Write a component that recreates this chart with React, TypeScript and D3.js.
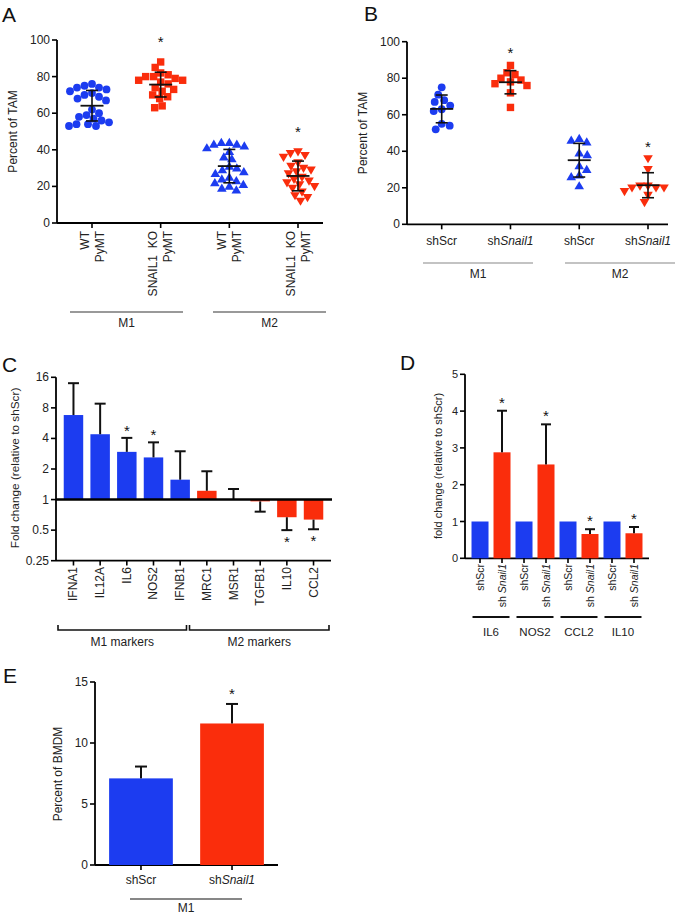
import React from "react";
import * as d3 from "d3";

const BLUE = "#1c3cf0";
const RED = "#fa2d0c";
const FONT = "'Liberation Sans', Arial, Helvetica, sans-serif";

// ---------- Panel A data ----------
const aLabels = [["WT", "PyMT"], ["SNAIL1  KO", "PyMT"], ["WT", "PyMT"], ["SNAIL1  KO", "PyMT"]];
const aGroups = ["M1", "M2"];
const aWtM1 = [76, 75, 74, 74, 73, 72, 71, 70, 69, 68, 67, 62, 60, 59, 58, 57, 56, 55, 54, 54, 53, 53];
const aKoM1 = [88, 85, 82, 81, 80, 80, 79, 78, 78, 77, 76, 74, 73, 72, 70, 69, 68, 64, 63];
const aWtM2 = [44, 44, 43, 43, 42, 41, 39, 36, 35, 31, 30, 29, 28, 27, 25, 24, 23, 22, 21, 20, 19, 18];
const aKoM2 = [39, 38, 37, 36, 33, 31, 30, 29, 28, 27, 25, 24, 23, 22, 21, 20, 19, 17, 15, 14, 12];
const aSig = [false, true, false, true];
const pctTicks = [0, 20, 40, 60, 80, 100];

// ---------- Panel B data ----------
const bLabels = ["shScr", "shSnail1", "shScr", "shSnail1"];
const bGroups = ["M1", "M2"];
const bScrM1 = [75, 71, 68, 67, 65, 63, 62, 55, 54, 52];
const bSnM1 = [87, 83, 82, 80, 79, 78, 77, 76, 72, 64];
const bScrM2 = [47, 46, 45, 39, 38, 32, 30, 27, 26, 21];
const bSnM2 = [36, 30, 20, 20, 21, 21, 20, 18, 16, 12];
const bSig = [false, true, false, true];

const markerShapes = ["circle", "square", "up", "down"];
const markerColors = [BLUE, RED, BLUE, RED];

// ---------- Panel C data ----------
const cGenes = ["IFNA1", "IL12A", "IL6", "NOS2", "IFNB1", "MRC1", "MSR1", "TGFB1", "IL10", "CCL2"];
const cValues = [6.8, 4.4, 2.95, 2.6, 1.57, 1.22, 1.01, 0.96, 0.67, 0.635];
const cErrEnds = [14, 8.8, 4.05, 3.66, 2.99, 1.9, 1.27, 0.76, 0.5, 0.51];
const cIsM1 = [true, true, true, true, true, false, false, false, false, false];
const cSig = [false, false, true, true, false, false, false, false, true, true];
const cTicks = [0.25, 0.5, 1, 2, 4, 8, 16];
const cGroups = ["M1 markers", "M2 markers"];

// ---------- Panel D data ----------
const dGenes = ["IL6", "NOS2", "CCL2", "IL10"];
const dScr = [1, 1, 1, 1];
const dSnail = [2.88, 2.55, 0.66, 0.68];
const dSnailErr = [1.13, 1.09, 0.13, 0.17];
const dSig = [true, true, true, true];
const dTicks = [0, 1, 2, 3, 4, 5];

// ---------- Panel E data ----------
const eLabels = ["shScr", "shSnail1"];
const eValues = [7.1, 11.6];
const eErr = [0.97, 1.6];
const eSig = [false, true];
const eTicks = [0, 5, 10, 15];

type Pt = { v: number; x: number; y: number };

function swarm(values: number[], y: (v: number) => number, minDist: number): Pt[] {
  const pts: Pt[] = values.map((v) => ({ v, x: 0, y: y(v) })).sort((a, b) => a.y - b.y);
  const placed: Pt[] = [];
  pts.forEach((p, i) => {
    let chosen = 0;
    for (let k = 0; k < 80; k += 0.5) {
      const cands = k === 0 ? [0] : i % 2 === 0 ? [k, -k] : [-k, k];
      const ok = cands.find((c) => placed.every((q) => Math.hypot(q.x - c, q.y - p.y) >= minDist));
      if (ok !== undefined) {
        chosen = ok;
        break;
      }
    }
    p.x = chosen;
    placed.push(p);
  });
  return placed;
}

function Marker({ shape, x, y, color }: { shape: string; x: number; y: number; color: string }) {
  if (shape === "circle") return <circle cx={x} cy={y} r={3.9} fill={color} />;
  if (shape === "square") return <rect x={x - 3.7} y={y - 3.7} width={7.4} height={7.4} fill={color} />;
  if (shape === "up")
    return <polygon points={`${x},${y - 4.8} ${x - 4.8},${y + 3.4} ${x + 4.8},${y + 3.4}`} fill={color} />;
  return <polygon points={`${x},${y + 4.8} ${x - 4.8},${y - 3.4} ${x + 4.8},${y - 3.4}`} fill={color} />;
}

function YAxis({ scale, ticks, x, fmt, fontSize = 12 }: any) {
  const [r0, r1] = scale.range();
  return (
    <g>
      <line x1={x} x2={x} y1={r0} y2={r1} stroke="#000" strokeWidth={1.8} />
      {ticks.map((t: number) => (
        <g key={t}>
          <line x1={x - 5} x2={x} y1={scale(t)} y2={scale(t)} stroke="#000" strokeWidth={1.6} />
          <text x={x - 7} y={scale(t)} textAnchor="end" dominantBaseline="central" fontSize={fontSize} fill="#222">
            {fmt ? fmt(t) : t}
          </text>
        </g>
      ))}
    </g>
  );
}

function Letter({ x, y, t }: { x: number; y: number; t: string }) {
  return (
    <text x={x} y={y} fontSize={21} fill="#111">
      {t}
    </text>
  );
}

function YTitle({ x, y, t, fontSize = 12 }: any) {
  return (
    <text transform={`translate(${x},${y}) rotate(-90)`} textAnchor="middle" dominantBaseline="central" fontSize={fontSize} fill="#222">
      {t}
    </text>
  );
}

function Star({ x, y }: { x: number; y: number }) {
  return (
    <text x={x} y={y + 7} textAnchor="middle" fontSize={15} fill="#111">
      *
    </text>
  );
}

function ShLabel({ name }: { name: string }) {
  if (name === "shSnail1")
    return (
      <>
        {"sh"}
        <tspan fontStyle="italic">Snail1</tspan>
      </>
    );
  return <>{name}</>;
}

function ScatterPanel({ cfg }: any) {
  const y = d3.scaleLinear().domain([0, 100]).range([cfg.yBottom, cfg.yTop]);
  const x = d3.scalePoint<number>().domain(cfg.series.map((_: any, i: number) => i)).range([cfg.first, cfg.last]);
  return (
    <g>
      <Letter x={cfg.letterX} y={cfg.letterY} t={cfg.letter} />
      <YTitle x={cfg.titleX} y={(cfg.yTop + cfg.yBottom) / 2} t="Percent of TAM" />
      <YAxis scale={y} ticks={pctTicks} x={cfg.axisX} />
      <line x1={cfg.axisX} x2={cfg.axisEnd} y1={cfg.yBottom} y2={cfg.yBottom} stroke="#000" strokeWidth={1.8} />
      {cfg.series.map((vals: number[], i: number) => {
        const cx = x(i)!;
        const pts = swarm(vals, y, cfg.minDist);
        const m = d3.mean(vals)!;
        const sd = d3.deviation(vals)!;
        const top = d3.max(vals)!;
        return (
          <g key={i}>
            <line x1={cx} x2={cx} y1={cfg.yBottom} y2={cfg.yBottom + 5} stroke="#000" strokeWidth={1.6} />
            {pts.map((p, j) => (
              <Marker key={j} shape={markerShapes[i]} x={cx + p.x} y={p.y} color={markerColors[i]} />
            ))}
            <line x1={cx} x2={cx} y1={y(m - sd)} y2={y(m + sd)} stroke="#111" strokeWidth={1.6} />
            <line x1={cx - 11.5} x2={cx + 11.5} y1={y(m)} y2={y(m)} stroke="#111" strokeWidth={1.8} />
            <line x1={cx - 6} x2={cx + 6} y1={y(m + sd)} y2={y(m + sd)} stroke="#111" strokeWidth={1.6} />
            <line x1={cx - 6} x2={cx + 6} y1={y(m - sd)} y2={y(m - sd)} stroke="#111" strokeWidth={1.6} />
            {cfg.sig[i] && <Star x={cx} y={y(top) - cfg.starGap} />}
            {cfg.renderLabel(i, cx)}
          </g>
        );
      })}
      {cfg.groups.map((g: string, gi: number) => {
        const [l, r] = cfg.groupLines[gi];
        return (
          <g key={g}>
            <line x1={l} x2={r} y1={cfg.groupY} y2={cfg.groupY} stroke={cfg.groupColor} strokeWidth={cfg.groupWidth} />
            <text x={(l + r) / 2} y={cfg.groupY + 15} textAnchor="middle" fontSize={12} fill="#222">
              {g}
            </text>
          </g>
        );
      })}
    </g>
  );
}

function PanelA() {
  const cfg = {
    letter: "A",
    letterX: 2,
    letterY: 22,
    titleX: 13,
    yTop: 40,
    yBottom: 223,
    axisX: 57,
    axisEnd: 323,
    first: 92,
    last: 298,
    minDist: 7.6,
    series: [aWtM1, aKoM1, aWtM2, aKoM2],
    sig: aSig,
    starGap: 22,
    groups: aGroups,
    groupLines: [[70, 183], [213, 326]],
    groupY: 312,
    groupColor: "#777",
    groupWidth: 1.5,
    renderLabel: (i: number, cx: number) => (
      <g>
        {aLabels[i].map((t, k) => (
          <text
            key={k}
            transform={`translate(${cx + (k - 0.5) * 15},231) rotate(-90)`}
            textAnchor="end"
            dominantBaseline="central"
            fontSize={12}
            fill="#222"
            style={{ whiteSpace: "pre" }}
          >
            {t}
          </text>
        ))}
      </g>
    ),
  };
  return <ScatterPanel cfg={cfg} />;
}

function PanelB() {
  const cfg = {
    letter: "B",
    letterX: 364,
    letterY: 21,
    titleX: 363,
    yTop: 41.7,
    yBottom: 224.3,
    axisX: 407,
    axisEnd: 668,
    first: 441.7,
    last: 648,
    minDist: 8,
    series: [bScrM1, bSnM1, bScrM2, bSnM2],
    sig: bSig,
    starGap: 14,
    groups: bGroups,
    groupLines: [[423, 533], [565, 675]],
    groupY: 263,
    groupColor: "#888",
    groupWidth: 1.1,
    renderLabel: (i: number, cx: number) => (
      <text x={cx} y={245} textAnchor="middle" fontSize={12} fill="#222">
        <ShLabel name={bLabels[i]} />
      </text>
    ),
  };
  return <ScatterPanel cfg={cfg} />;
}

function PanelC() {
  const y = d3.scaleLog().base(2).domain([0.25, 16]).range([560.7, 377.3]);
  const x = d3.scaleBand<string>().domain(cGenes).range([56, 331]).paddingInner(0.27).paddingOuter(0.29);
  const bw = x.bandwidth();
  const y1 = y(1);
  const brackets = [
    [58, 186.5],
    [189.5, 329],
  ];
  return (
    <g>
      <Letter x={2} y={372} t="C" />
      <YTitle x={15} y={468} t="Fold change (relative to shScr)" fontSize={11.8} />
      <YAxis scale={y} ticks={cTicks} x={56} />
      <line x1={56} x2={331} y1={560.7} y2={560.7} stroke="#000" strokeWidth={1.8} />
      {cGenes.map((g, i) => {
        const cx = x(g)! + bw / 2;
        const v = cValues[i];
        const e = cErrEnds[i];
        const up = v >= 1;
        return (
          <g key={g}>
            <rect
              x={x(g)!}
              width={bw}
              y={Math.min(y(v), y1)}
              height={Math.abs(y(v) - y1)}
              fill={cIsM1[i] ? BLUE : RED}
            />
            <line x1={cx} x2={cx} y1={y(v)} y2={y(e)} stroke="#111" strokeWidth={2} />
            <line x1={cx - 5.5} x2={cx + 5.5} y1={y(e)} y2={y(e)} stroke="#111" strokeWidth={2} />
            {cSig[i] && <Star x={cx} y={up ? y(e) - 9 : y(e) + 10} />}
            <line x1={cx} x2={cx} y1={560.7} y2={565.5} stroke="#000" strokeWidth={1.6} />
            <text transform={`translate(${cx},567) rotate(-90)`} textAnchor="end" dominantBaseline="central" fontSize={12} fill="#222">
              {g}
            </text>
          </g>
        );
      })}
      <line x1={56} x2={332} y1={y1} y2={y1} stroke="#000" strokeWidth={2.6} />
      {cGroups.map((g, gi) => {
        const [l, r] = brackets[gi];
        return (
          <g key={g}>
            <path d={`M${l},${625} V${630} H${r} V${625}`} fill="none" stroke="#111" strokeWidth={1.6} />
            <text x={(l + r) / 2} y={646} textAnchor="middle" fontSize={12} fill="#222">
              {g}
            </text>
          </g>
        );
      })}
    </g>
  );
}

function PanelD() {
  const y = d3.scaleLinear().domain([0, 5]).range([558.3, 374.3]);
  const keys = dGenes.flatMap((g) => [`${g}-scr`, `${g}-sn`]);
  const x = d3.scaleBand<string>().domain(keys).range([465, 649]).paddingInner(0.227).paddingOuter(0.296);
  const bw = x.bandwidth();
  return (
    <g>
      <Letter x={400} y={370} t="D" />
      <YTitle x={438} y={466} t="fold change (relative to shScr)" fontSize={11} />
      <YAxis scale={y} ticks={dTicks} x={465} fontSize={11} />
      <line x1={465} x2={649} y1={558.3} y2={558.3} stroke="#000" strokeWidth={1.8} />
      {dGenes.map((g, i) => {
        const xs = x(`${g}-scr`)!;
        const xn = x(`${g}-sn`)!;
        const cs = xs + bw / 2;
        const cn = xn + bw / 2;
        const v = dSnail[i];
        const top = v + dSnailErr[i];
        return (
          <g key={g}>
            <rect x={xs} width={bw} y={y(dScr[i])} height={y(0) - y(dScr[i])} fill={BLUE} />
            <rect x={xn} width={bw} y={y(v)} height={y(0) - y(v)} fill={RED} />
            <line x1={cn} x2={cn} y1={y(v)} y2={y(top)} stroke="#111" strokeWidth={2} />
            <line x1={cn - 5} x2={cn + 5} y1={y(top)} y2={y(top)} stroke="#111" strokeWidth={2} />
            {dSig[i] && <Star x={cn} y={y(top) - 10} />}
            {[cs, cn].map((c, k) => (
              <g key={k}>
                <line x1={c} x2={c} y1={558.3} y2={563} stroke="#000" strokeWidth={1.6} />
                <text transform={`translate(${c},564) rotate(-90)`} textAnchor="end" dominantBaseline="central" fontSize={10.5} fill="#222">
                  {k === 0 ? "shScr" : (
                    <>
                      {"sh "}
                      <tspan fontStyle="italic">Snail1</tspan>
                    </>
                  )}
                </text>
              </g>
            ))}
            <line x1={xs + 1} x2={xn + bw - 1} y1={617} y2={617} stroke="#111" strokeWidth={2} />
            <text x={(cs + cn) / 2} y={636} textAnchor="middle" fontSize={11.5} fill="#222">
              {g}
            </text>
          </g>
        );
      })}
    </g>
  );
}

function PanelE() {
  const y = d3.scaleLinear().domain([0, 15]).range([865, 682]);
  const x = d3.scaleBand<string>().domain(eLabels).range([95, 278]).paddingInner(0.3).paddingOuter(0.155);
  const bw = x.bandwidth();
  const colors = [BLUE, RED];
  const y0 = y(0);
  return (
    <g>
      <Letter x={3} y={683} t="E" />
      <YTitle x={58} y={774} t="Percent of BMDM" />
      <YAxis scale={y} ticks={eTicks} x={95} />
      <line x1={95} x2={278} y1={y0} y2={y0} stroke="#000" strokeWidth={1.8} />
      {eLabels.map((l, i) => {
        const cx = x(l)! + bw / 2;
        const v = eValues[i];
        const top = v + eErr[i];
        return (
          <g key={l}>
            <rect x={x(l)!} width={bw} y={y(v)} height={y0 - y(v)} fill={colors[i]} />
            <line x1={cx} x2={cx} y1={y(v)} y2={y(top)} stroke="#111" strokeWidth={2} />
            <line x1={cx - 6} x2={cx + 6} y1={y(top)} y2={y(top)} stroke="#111" strokeWidth={2} />
            {eSig[i] && <Star x={cx} y={y(top) - 12} />}
            <line x1={cx} x2={cx} y1={y0} y2={y0 + 5} stroke="#000" strokeWidth={1.6} />
            <text x={cx} y={884} textAnchor="middle" fontSize={12} fill="#222">
              <ShLabel name={l} />
            </text>
          </g>
        );
      })}
      <line x1={130} x2={242} y1={899} y2={899} stroke="#111" strokeWidth={1.1} />
      <text x={186} y={912} textAnchor="middle" fontSize={12} fill="#222">
        M1
      </text>
    </g>
  );
}

export default function App() {
  return (
    <svg
      width={685}
      height={914}
      style={{ position: "absolute", left: 0, top: 0, background: "#fff" }}
      fontFamily={FONT}
    >
      <rect width={685} height={914} fill="#fff" />
      <PanelA />
      <PanelB />
      <PanelC />
      <PanelD />
      <PanelE />
    </svg>
  );
}
